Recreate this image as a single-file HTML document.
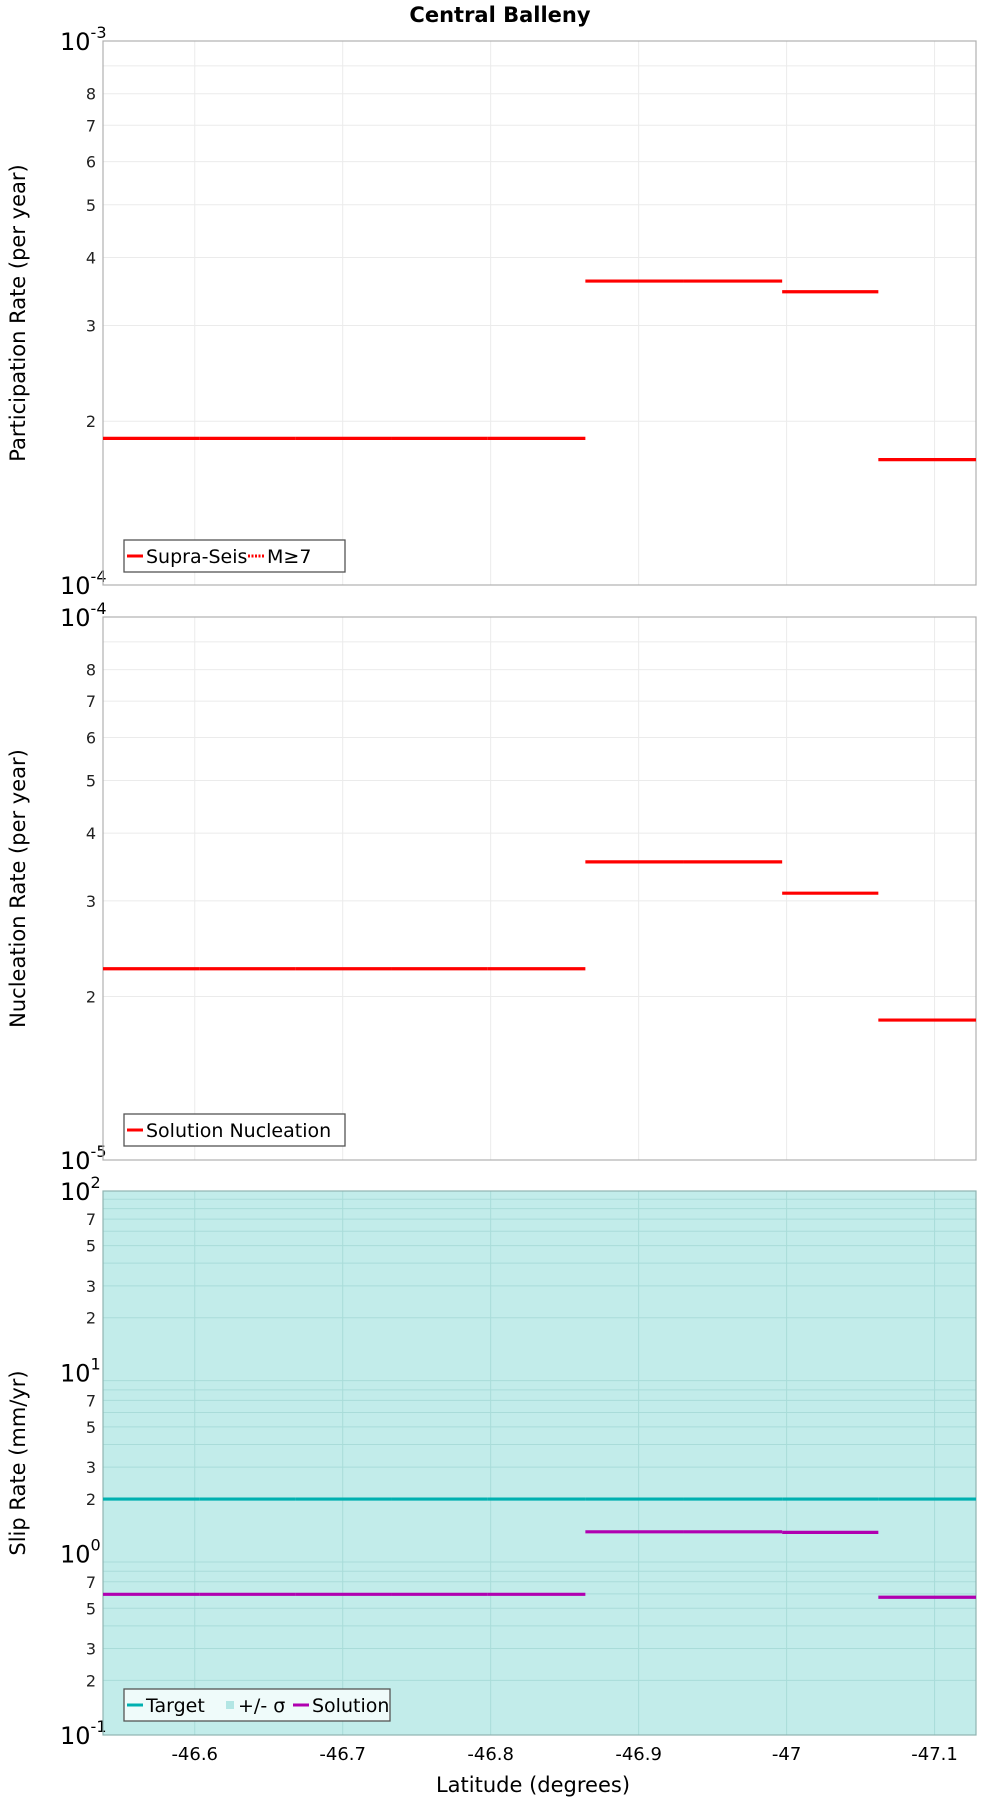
<!DOCTYPE html>
<html><head><meta charset="utf-8"><style>
html,body{margin:0;padding:0;background:#fff;}
svg{display:block;font-family:"DejaVu Sans","Liberation Sans",sans-serif;}
</style></head><body>
<svg id="chart" width="1000" height="1800" viewBox="0 0 1000 1800" xmlns="http://www.w3.org/2000/svg">
<text x="500" y="22" text-anchor="middle" font-size="21" font-weight="bold">Central Balleny</text>
</svg>
<script>
// ---- data ----
const segBounds = [-46.538, -46.603, -46.668, -46.733, -46.798, -46.864, -46.930, -46.997, -47.062, -47.128];
const participation = [1.86e-4, 1.86e-4, 1.86e-4, 1.86e-4, 1.86e-4, 3.62e-4, 3.62e-4, 3.46e-4, 1.70e-4];
const nucleation = [2.25e-5, 2.25e-5, 2.25e-5, 2.25e-5, 2.25e-5, 3.54e-5, 3.54e-5, 3.10e-5, 1.81e-5];
const slipTarget = [2.0, 2.0, 2.0, 2.0, 2.0, 2.0, 2.0, 2.0, 2.0];
const slipSolution = [0.597, 0.597, 0.597, 0.597, 0.597, 1.32, 1.32, 1.31, 0.575];
const xTicks = [-46.6, -46.7, -46.8, -46.9, -47.0, -47.1];
const xTickLabels = ["-46.6", "-46.7", "-46.8", "-46.9", "-47", "-47.1"];

const NS = "http://www.w3.org/2000/svg";
const svg = document.getElementById('chart');
const L = 103, R = 976;
const xMin = -46.538, xMax = -47.128;
function xs(v){ return L + (v - xMin) / (xMax - xMin) * (R - L); }
function mk(tag, attrs, parent){
  const e = document.createElementNS(NS, tag);
  for (const k in attrs) e.setAttribute(k, attrs[k]);
  (parent || svg).appendChild(e);
  return e;
}
function makePanel(cfg){
  const g = mk('g', {});
  
  
  const T = cfg.top, B = cfg.bottom;
  const ys = v => B - (Math.log10(v) - cfg.dmin) / (cfg.dmax - cfg.dmin) * (B - T);
  if (cfg.fill) {
    const r = mk('rect', {x:L, y:T, width:R-L, height:B-T, fill:cfg.fill}, g);
    
    
  }
  const gridCol = cfg.fill ? '#a9dcd9' : '#ebebeb';
  // horizontal grid + labels
  for (let d = cfg.dmin; d < cfg.dmax; d++) {
    for (let m = 1; m <= 9; m++) {
      const v = m * Math.pow(10, d);
      const y = ys(v);
      if (m > 1) mk('line', {x1:L, x2:R, y1:y, y2:y, stroke:gridCol, 'stroke-width':1}, g);
      if (m > 1 && cfg.minorLabels.includes(m)) {
        const t = mk('text', {x:96, y:y+6, 'text-anchor':'end', 'font-size':16, fill:'#222'}, g);
        t.textContent = m;
        
        
      }
    }
  }
  // decade labels
  for (let d = cfg.dmin; d <= cfg.dmax; d++) {
    const y = ys(Math.pow(10, d)) + 9;
    const t = mk('text', {x:60, y:y, 'font-size':24, fill:'#000'}, g);
    const lab = cfg.decLabel(d);
    t.textContent = '10';
    const s = mk('tspan', {dy:-12, 'font-size':16}, t);
    s.textContent = lab;
    
    
  }
  // vertical grid
  xTicks.forEach(v => { const x = xs(v); mk('line', {x1:x, x2:x, y1:T, y2:B, stroke:gridCol, 'stroke-width':1}, g); });
  // border
  mk('rect', {x:L, y:T, width:R-L, height:B-T, fill:'none', stroke:cfg.fill ? '#8fb3b1' : '#b0b0b0', 'stroke-width':1.2}, g);
  // series
  cfg.series.forEach(s => {
    s.values.forEach((v, i) => {
      const y = ys(v);
      const ln = mk('line', {x1:xs(segBounds[i]), x2:xs(segBounds[i+1]), y1:y, y2:y, stroke:s.color, 'stroke-width':3.2}, g);
      
      
    });
  });
  // y title
  const yt = mk('text', {x:0, y:0, 'text-anchor':'middle', 'font-size':21, transform:`translate(25,${(T+B)/2}) rotate(-90)`}, g);
  yt.textContent = cfg.ytitle;
  
  
  // legend
  const lg = mk('g', {}, g);
  
  
  mk('rect', {x:124, y:cfg.legY, width:cfg.legW, height:32, fill:cfg.fill ? '#effbfa' : '#fff', stroke:'#555', 'stroke-width':1.3}, lg);
  let x = 127;
  cfg.legend.forEach(e => {
    if (e.type === 'box') mk('rect', {x:x, y:cfg.legY+12, width:8, height:8, fill:e.color}, lg);
    else mk('line', {x1:x, x2:x+16, y1:cfg.legY+16, y2:cfg.legY+16, stroke:e.color, 'stroke-width':3, 'stroke-dasharray':e.dash||''}, lg);
    x += e.type === 'box' ? 12 : 19;
    const t = mk('text', {x:x, y:cfg.legY+23, 'font-size':19}, lg);
    t.textContent = e.label;
    
    
    x += e.w;
  });
  return g;
}
makePanel({name:'participation-panel', top:41, bottom:585, dmin:-4, dmax:-3, minorLabels:[2,3,4,5,6,7,8],
  decLabel:d=>String(d), ytitle:'Participation Rate (per year)', legY:540, legW:221,
  series:[{name:'participation', values:participation, color:'#ff0000'}],
  legend:[{type:'line', color:'#ff0000', label:'Supra-Seis', w:102},{type:'line', color:'#ff0000', dash:'2,1.5', label:'M≥7', w:40}]});
makePanel({name:'nucleation-panel', top:617, bottom:1160, dmin:-5, dmax:-4, minorLabels:[2,3,4,5,6,7,8],
  decLabel:d=>String(d), ytitle:'Nucleation Rate (per year)', legY:1114, legW:221,
  series:[{name:'nucleation', values:nucleation, color:'#ff0000'}],
  legend:[{type:'line', color:'#ff0000', label:'Solution Nucleation', w:180}]});
makePanel({name:'slip-rate-panel', top:1191, bottom:1735, dmin:-1, dmax:2, minorLabels:[2,3,5,7], fill:'#c2ecea',
  decLabel:d=>String(d), ytitle:'Slip Rate (mm/yr)', legY:1689, legW:266,
  series:[{name:'target', values:slipTarget, color:'#00b0b0'},{name:'solution', values:slipSolution, color:'#b000b0'}],
  legend:[{type:'line', color:'#00b0b0', label:'Target', w:80},{type:'box', color:'#b2e6e4', label:'+/- σ', w:55},{type:'line', color:'#b000b0', label:'Solution', w:80}]});
// x tick labels
xTicks.forEach((v, i) => {
  const t = mk('text', {x:xs(v), y:1760, 'text-anchor':'middle', 'font-size':18});
  t.textContent = xTickLabels[i];
  
  
});
const xt = mk('text', {x:533, y:1792, 'text-anchor':'middle', 'font-size':21});
xt.textContent = 'Latitude (degrees)';


</script>
</body></html>
